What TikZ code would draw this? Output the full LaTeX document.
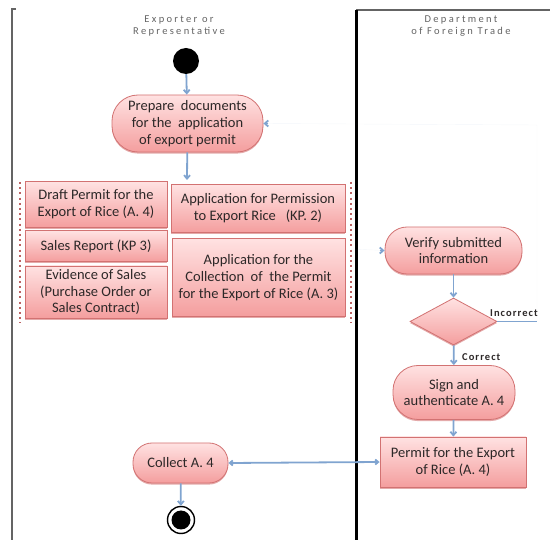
\documentclass[tikz,border=0pt]{standalone}
\usepackage{fontspec}
\setmainfont{Carlito}
\newfontfamily\lanefont[LetterSpace=22]{Carlito}
\newfontfamily\guardfont[LetterSpace=10]{Carlito}
\usetikzlibrary{arrows.meta,shapes.geometric,shadows}

\definecolor{pinkTop}{RGB}{255,226,226}
\definecolor{pinkBot}{RGB}{244,158,158}
\definecolor{pinkLine}{RGB}{210,114,114}
\definecolor{flowBlue}{RGB}{128,164,208}
\definecolor{groupDot}{RGB}{188,100,100}
\definecolor{laneGray}{RGB}{100,100,100}
\definecolor{txt}{RGB}{45,40,40}

\tikzset{
  boxbase/.style={draw=pinkLine, line width=0.8pt, top color=pinkTop, bottom color=pinkBot,
    inner sep=0pt, align=center, text=txt, font=\fontsize{14.5}{16.8}\selectfont,
    drop shadow={shadow xshift=0pt, shadow yshift=-1.6pt, fill=pinkLine, opacity=0.6}},
  action/.style={boxbase, rectangle},
  docbox/.style={boxbase, rectangle},
  decision/.style={boxbase, diamond, minimum width=87pt, minimum height=47pt},
  flow/.style={draw=flowBlue, line width=1.8pt, -{Straight Barb[length=3.5pt,width=6pt]}},
  faintflow/.style={draw=flowBlue, line width=0.4pt, opacity=0.1},
  tipflow/.style={draw=flowBlue, line width=1.8pt, -{Straight Barb[length=3.5pt,width=6pt]}},
  lanehead/.style={align=center, text=laneGray, font=\lanefont\fontsize{10.5}{12}\selectfont},
  guard/.style={text=txt, font=\guardfont\bfseries\fontsize{10.5}{12}\selectfont, inner sep=0pt},
  groupside/.style={draw=groupDot, line width=2.2pt, dash pattern=on 2pt off 3.2pt}
}

\begin{document}
\begin{tikzpicture}[x=1pt, y=-1pt]
\useasboundingbox (0,0) rectangle (550,540);

% swimlane borders
\draw[draw=laneGray, line width=2pt] (16,9) -- (12,9) -- (12,540);
\draw[draw=laneGray, line width=2pt] (356,10) -- (550,10);
\draw[line width=3pt] (356,10) -- (356,540);

% lane headings
\node[lanehead] (laneA) at (179,26) {Exporter or\\Representative};
\node[lanehead] (laneB) at (461,26) {Department\\of Foreign Trade};

% start
\node[circle, fill=black, minimum size=26pt, inner sep=0pt] (start) at (186,61) {};

% exporter activities
\node[action, rounded corners=26pt, minimum width=151pt, minimum height=57pt] (prep) at (187.5,123.5)
  {Prepare\ \ documents\\for the\ \ application\\of export permit};

% submitted documents
\coordinate (docsTop) at (187,180);
\coordinate (docsRight) at (351,249);
\draw[groupside] (20,182) -- (20,323);
\draw[groupside] (351,182) -- (351,323);

\node[docbox, minimum width=142pt, minimum height=46pt] (draft) at (96,204.5)
  {Draft Permit for the\\Export of Rice (A. 4)};
\node[docbox, minimum width=142pt, minimum height=31pt] (sales) at (96,246)
  {Sales Report (KP 3)};
\node[docbox, minimum width=142pt, minimum height=52pt] (evid) at (96,292)
  {Evidence of Sales\\(Purchase Order or\\Sales Contract)};
\node[docbox, minimum width=174pt, minimum height=48pt] (kp2) at (258,208.5)
  {Application for Permission\\to Export Rice\ \ \ (KP. 2)};
\node[docbox, minimum width=173pt, minimum height=78pt] (a3) at (258.5,277.5)
  {Application for the\\Collection\ \ of\ \ the Permit\\for the Export of Rice (A. 3)};

% department activities
\node[action, rounded corners=22pt, minimum width=137pt, minimum height=47pt] (verify) at (453.5,250.5)
  {Verify submitted\\information};
\node[decision] (dec) at (453.5,321.5) {};
\node[action, rounded corners=25pt, minimum width=122pt, minimum height=54pt] (sign) at (454,392.5)
  {Sign and\\authenticate A. 4};
\node[docbox, minimum width=146pt, minimum height=50pt] (permit) at (453,462)
  {Permit for the Export\\of Rice (A. 4)};

\node[action, rounded corners=19pt, minimum width=95pt, minimum height=40pt] (collect) at (180.5,463)
  {Collect A. 4};

% final
\node[circle, draw=black, line width=1.4pt, fill=white, minimum size=27pt, inner sep=0pt] (final) at (181,520) {};
\fill (final.center) circle (9.5pt);

% control flow
\draw[flow] (start) -- (prep);
\draw[flow] (prep) -- (docsTop);
\draw[faintflow] (docsRight) -- (verify.west);
\draw[tipflow] ([xshift=-5pt]verify.west) -- (verify.west);
\draw[flow] (verify) -- (dec);
\coordinate (loopR) at (537,321.5);
\coordinate (loopT) at (537,125);
\draw[draw=flowBlue, line width=1.8pt] (dec.east) -- (loopR);
\draw[faintflow] (loopR) -- (loopT) -- (prep.east);
\draw[tipflow] ([xshift=5pt]prep.east) -- (prep.east);
\node[guard, anchor=south west] (incorrect) at (490,317) {Incorrect};
\draw[flow] (dec) -- (sign);
\node[guard, anchor=west] (correct) at (462,357) {Correct};
\draw[flow] (sign) -- (permit);
\draw[draw=flowBlue, line width=1.8pt, {Straight Barb[length=3pt,width=5pt]}-{Straight Barb[length=3pt,width=5pt]}] (collect.east) -- (permit.west);
\draw[flow] (collect) -- (final);
\end{tikzpicture}
\end{document}
